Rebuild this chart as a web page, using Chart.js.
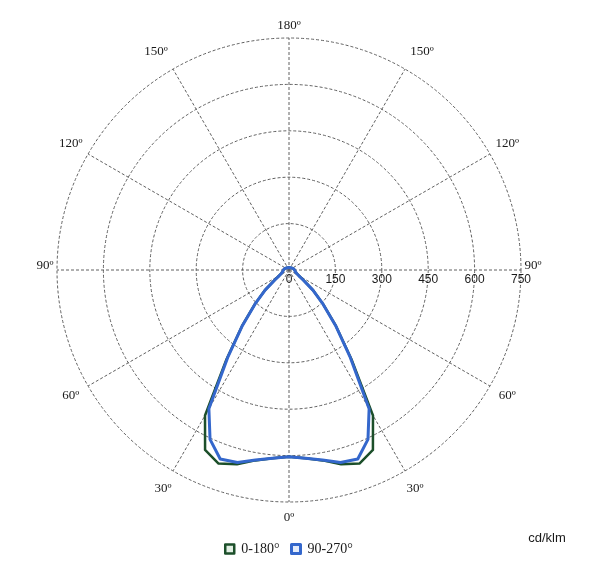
<!DOCTYPE html>
<html>
<head>
<meta charset="utf-8">
<script src="https://cdn.jsdelivr.net/npm/chart.js@4/dist/chart.umd.min.js"></script>
<style>
  html, body { margin: 0; padding: 0; background: #fff; }
</style>
</head>
<body>
<canvas id="polar" width="600" height="583"></canvas>
<script>
// gamma angles, degrees from nadir, every 5 degrees (0 = straight down)
const gammaAngles = [0, 5, 10, 15, 20, 25, 30, 35, 40, 45, 50, 55, 60, 65, 70, 75, 80, 85, 90,
  95, 100, 105, 110, 115, 120, 125, 130, 135, 140, 145, 150, 155, 160, 165, 170, 175, 180];
// intensities in cd/klm
const plane0_180 = [604, 611, 625, 650, 666, 642, 543, 352, 236, 156, 101, 56, 37, 28, 24, 21, 20, 19, 18,
  17, 16, 15, 14, 13, 12, 11, 10, 10, 9, 9, 8, 8, 8, 8, 8, 8, 8];
const plane90_270 = [604, 611, 624, 644, 650, 604, 518, 346, 234, 155, 100, 55, 36, 28, 24, 21, 20, 19, 18,
  17, 16, 15, 14, 13, 12, 11, 10, 10, 9, 9, 8, 8, 8, 8, 8, 8, 8];
const seriesNames = ["0-180°", "90-270°"];
const ringTicks = [0, 150, 300, 450, 600, 750];
const unitLabel = "cd/klm";

// left half goes 0..180, right half comes back 175..5
const mirror = (arr) => arr.concat(arr.slice(1, -1).reverse());
const fullAngles = mirror(gammaAngles);

const gridColor = "#606060";

//draws the angle labels, ring values and unit text
const labelPlugin = {
  id: "polarLabels",
  afterDraw: (chart) => {
    const ctx = chart.ctx;
    const scale = chart.scales.r;
    const cx = scale.xCenter;
    const cy = scale.yCenter;
    ctx.save();
    ctx.fillStyle = "#1a1a1a";
    ctx.textAlign = "center";
    ctx.textBaseline = "middle";

    // angle labels every 30 degrees
    ctx.font = "13px 'Liberation Serif', serif";
    fullAngles.forEach((g, i) => {
      if (g % 30 !== 0) return;
      let dist = 252;
      if (g === 0) dist = 248;
      if (g === 180) dist = 244;
      if (g === 90) dist = 244;
      const p = scale.getPointPosition(i, dist);
      let x = p.x;
      let y = p.y;
      if (g === 90) y -= 4;
      if (g === 150) x += (x < cx ? -7 : 7);
      ctx.fillText(g + "º", x, y);
    });

    // ring values along the horizontal axis
    ctx.font = "12px 'Liberation Sans', Arial, sans-serif";
    ringTicks.forEach((v) => {
      const x = cx + scale.getDistanceFromCenterForValue(v);
      ctx.fillText(String(v), x, cy + 10);
    });

    ctx.font = "13px 'Liberation Sans', Arial, sans-serif";
    ctx.fillText(unitLabel, cx + scale.drawingArea + 26, cy + 268);
    ctx.restore();
  },
};

const polarChart = new Chart(document.getElementById("polar"), {
  type: "radar",
  data: {
    labels: fullAngles,
    datasets: [
      {
        label: seriesNames[0],
        data: mirror(plane0_180),
        borderColor: "#1c4f2a",
        backgroundColor: "#e2efe4",
        borderWidth: 2.5,
        order: 1,
      },
      {
        label: seriesNames[1],
        data: mirror(plane90_270),
        borderColor: "#3467cc",
        backgroundColor: "#e4ecfb",
        borderWidth: 3,
        order: 0,
      },
    ],
  },
  options: {
    responsive: false,
    animation: false,
    layout: { padding: { left: 57, right: 79, top: 10, bottom: 17 } },
    elements: {
      point: { radius: 0, hoverRadius: 0 },
      line: { tension: 0, fill: false, borderJoinStyle: "round" },
    },
    scales: {
      r: {
        min: 0,
        max: 750,
        startAngle: 180,
        ticks: { display: false, stepSize: 150 },
        pointLabels: { display: false },
        grid: { circular: true, color: gridColor, lineWidth: 1 },
        border: { dash: [3, 2] },
        angleLines: {
          color: (c) => (fullAngles[c.index] % 30 === 0 ? gridColor : "transparent"),
          lineWidth: 1,
          borderDash: [3, 2],
        },
      },
    },
    plugins: {
      tooltip: { enabled: false },
      legend: {
        position: "bottom",
        labels: {
          boxWidth: 9,
          boxHeight: 9,
          padding: 12,
          color: "#1a1a1a",
          font: { family: "'Liberation Serif', serif", size: 14 },
          sort: (a, b) => a.datasetIndex - b.datasetIndex,
        },
      },
    },
  },
  plugins: [labelPlugin],
});
</script>
</body>
</html>
